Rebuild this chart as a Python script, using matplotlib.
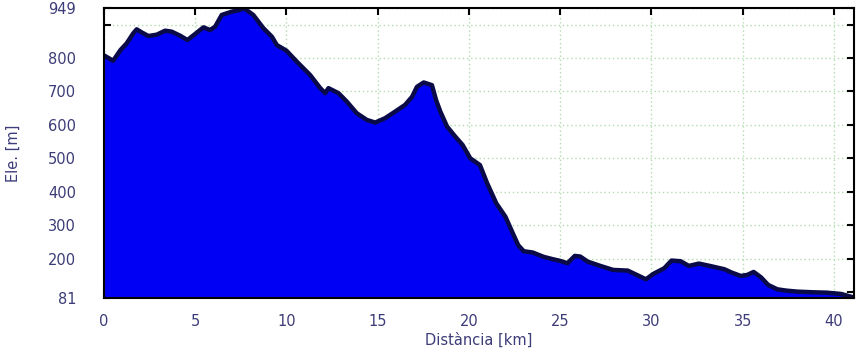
import matplotlib
matplotlib.use("Agg")
import matplotlib.pyplot as plt
import numpy as np

# elevation profile
dist_km = [0.0, 0.25, 0.5, 0.9, 1.24, 1.6, 1.79, 2.06, 2.43, 2.89, 3.35, 3.71, 4.17, 4.57,
           4.99, 5.45, 5.81, 6.09, 6.45, 7.0, 7.45, 7.65, 7.8, 8.18, 8.74, 9.2, 9.47, 10.0,
           10.57, 11.3, 11.85, 12.12, 12.3, 12.85, 13.3, 13.85, 14.4, 14.86, 15.4, 15.96,
           16.5, 16.88, 17.15, 17.52, 17.97, 18.2, 18.43, 18.8, 19.25, 19.65, 20.07, 20.6,
           21.0, 21.5, 22.0, 22.4, 22.7, 23.0, 23.5, 24.1, 24.6, 25.0, 25.4, 25.8, 26.1,
           26.5, 27.2, 27.9, 28.7, 29.2, 29.7, 30.1, 30.7, 31.1, 31.6, 32.05, 32.6, 33.2,
           34.0, 34.4, 34.9, 35.25, 35.6, 36.0, 36.4, 36.9, 37.4, 38.0, 38.9, 39.6, 40.4,
           41.05]
elev_m = [808, 800, 792, 824, 844, 874, 886, 877, 866, 870, 882, 879, 867, 854,
          872, 892, 884, 894, 929, 939, 944, 949, 944, 929, 889, 864, 839, 822,
          789, 749, 710, 695, 710, 695, 670, 635, 615, 607, 620, 640,
          660, 684, 714, 727, 719, 674, 640, 595, 565, 540, 500, 480,
          425, 365, 325, 276, 240, 222, 218, 205, 198, 193, 186, 208, 206,
          191, 178, 166, 164, 151, 138, 154, 171, 194, 192, 178, 185, 178,
          168, 158, 148, 151, 160, 144, 121, 108, 104, 101, 99, 98, 94,
          84]

ele_min, ele_max = 81, 949
x_ticks = [0, 5, 10, 15, 20, 25, 30, 35, 40]
y_ticks = [81, 100, 200, 300, 400, 500, 600, 700, 800, 900, 949]
y_labels = ["81", "", "200", "300", "400", "500", "600", "700", "800", "", "949"]

txt = "#3c3c78"

fig = plt.figure(figsize=(8.64, 3.54), dpi=100)
ax = fig.add_axes([0.1204, 0.1573, 0.8680, 0.8193])

ax.fill_between(dist_km, elev_m, ele_min, color="#0000f5", zorder=2)
ax.plot(dist_km, elev_m, color="#0a0a48", lw=3.2, solid_joinstyle="round",
        solid_capstyle="round", zorder=3)

ax.set_xlim(0, 41.1)
ax.set_ylim(ele_min, ele_max)
ax.set_xticks(x_ticks)
ax.set_yticks(y_ticks)
ax.set_yticklabels(y_labels)

ax.grid(True, color="#b0dcb0", linestyle=(0, (1, 2)), linewidth=1.0, zorder=1)
ax.set_axisbelow(True)
ax.tick_params(direction="in", length=5, width=1.5, top=True, right=True,
               labelsize=10.5, labelcolor=txt)
ax.tick_params(axis="y", pad=20)
ax.tick_params(axis="x", pad=11)
for s in ax.spines.values():
    s.set_linewidth(1.5)
    s.set_zorder(5)

ax.set_xlabel("Distància [km]", fontsize=10.5, color=txt, labelpad=3)
ax.set_ylabel("Ele. [m]", fontsize=10.5, color=txt, labelpad=20)

fig.savefig("out.png", dpi=100)
